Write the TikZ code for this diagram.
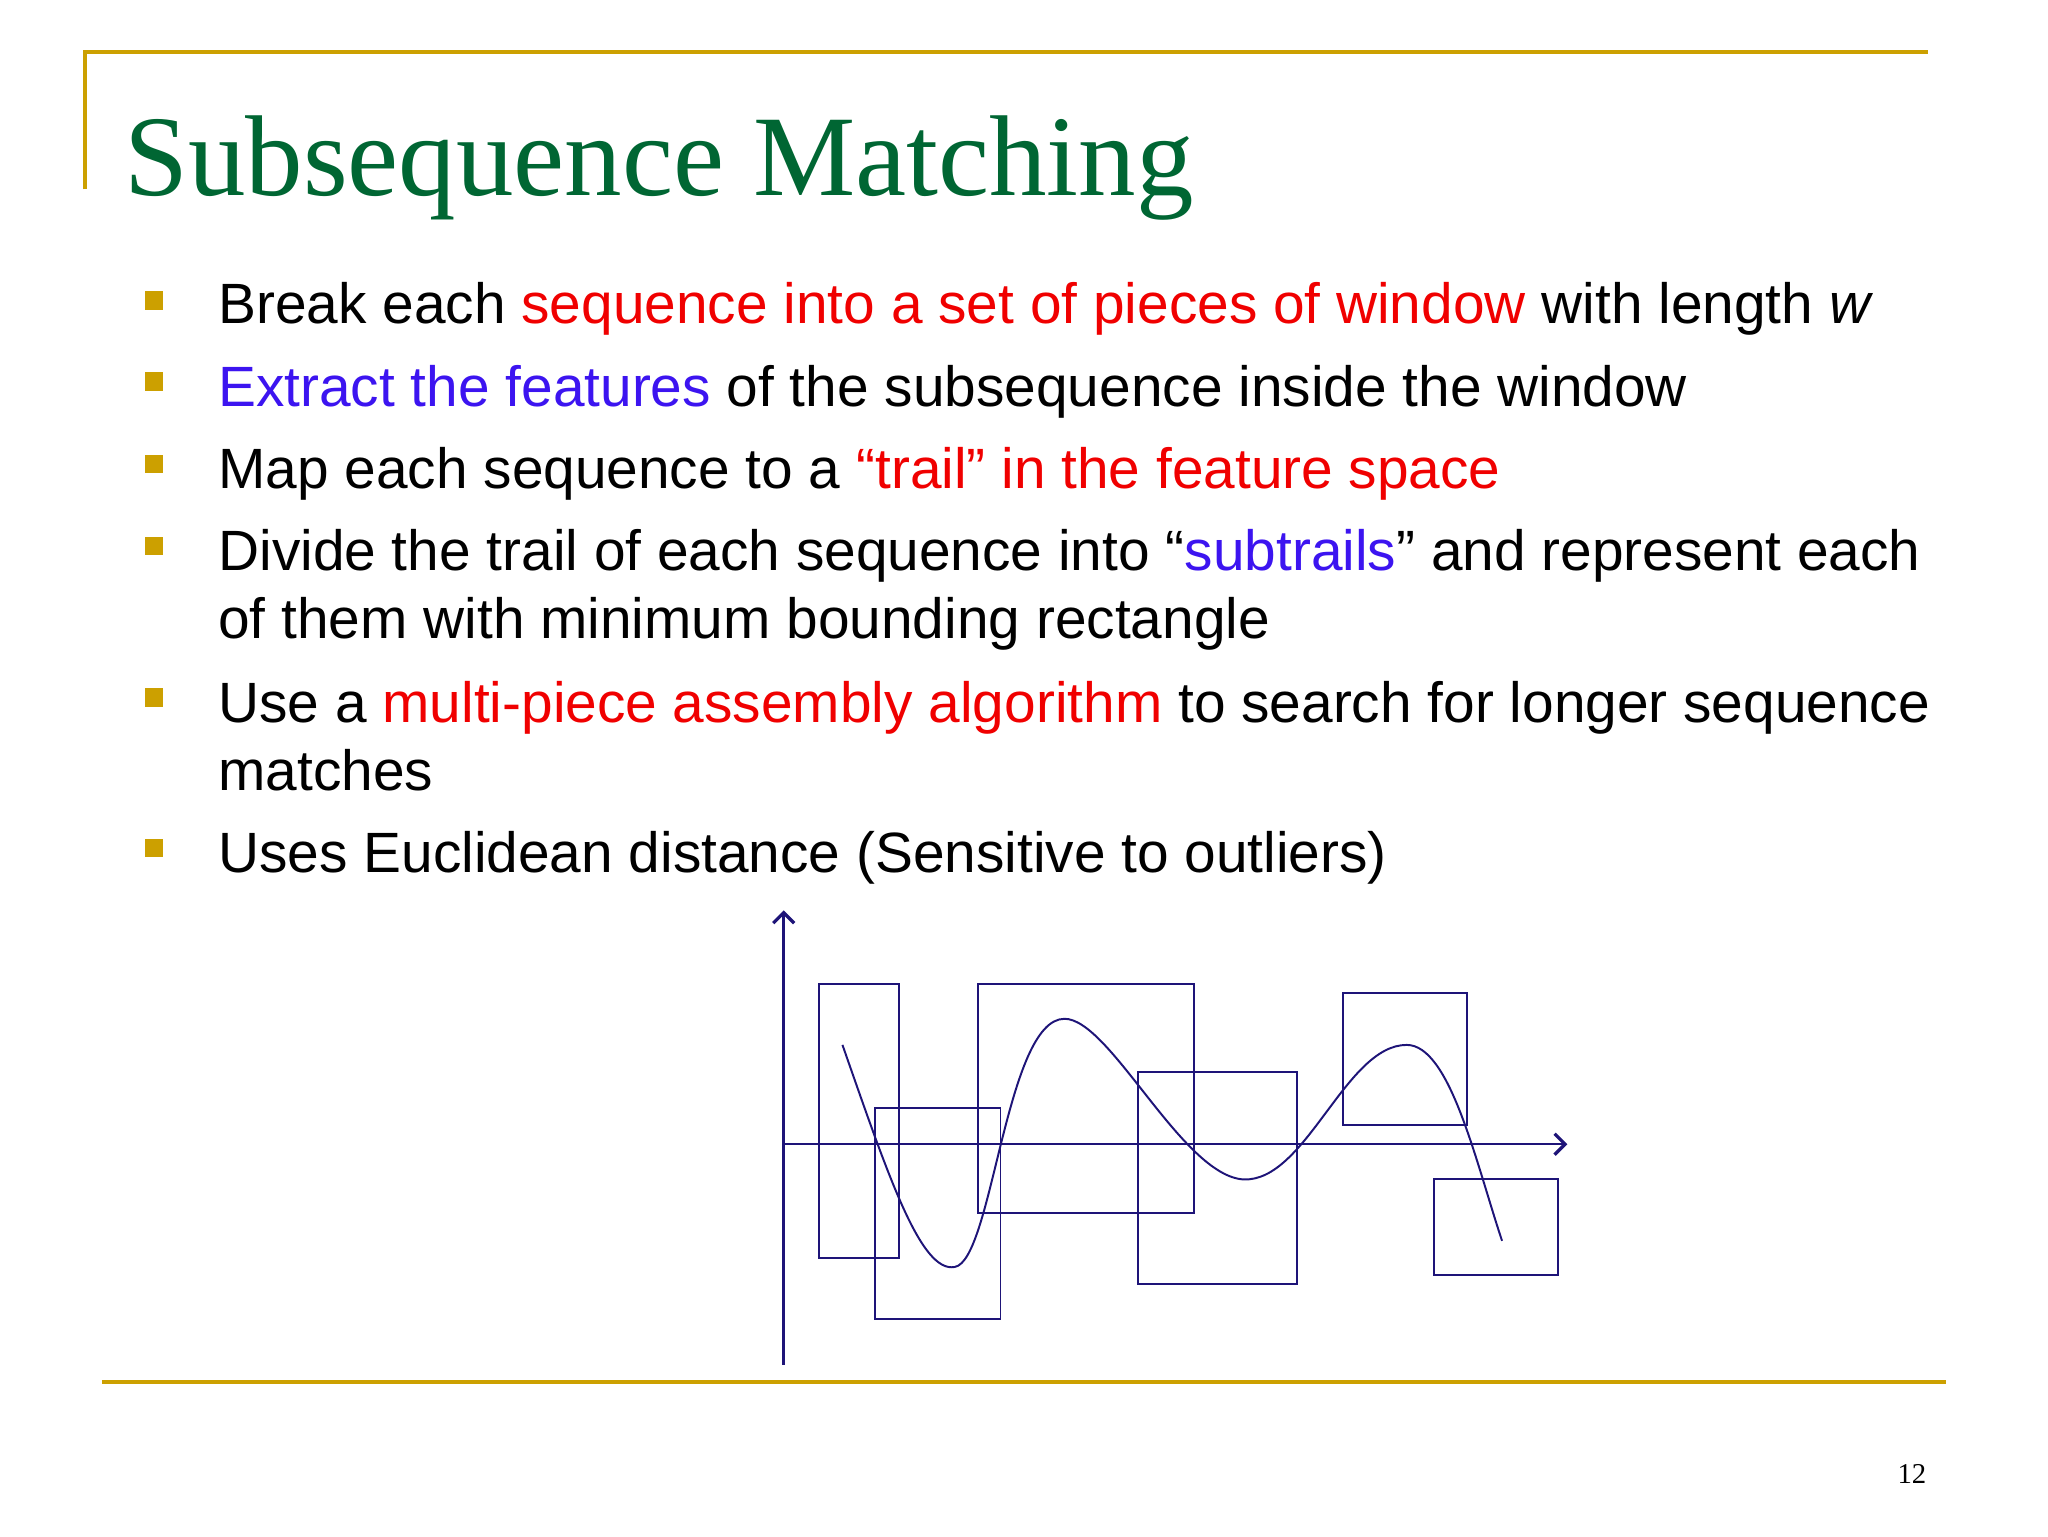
\documentclass[tikz,border=0pt]{standalone}
\usepackage{fontspec}
\setmainfont{Liberation Sans}
\newfontfamily\titlefont{Liberation Serif}
\definecolor{gold}{RGB}{204,160,0}
\definecolor{ttl}{RGB}{0,102,51}
\definecolor{rd}{RGB}{240,0,0}
\definecolor{bl}{RGB}{60,20,240}
\definecolor{nv}{RGB}{30,20,120}
\tikzset{txt/.style={anchor=base west,inner sep=0,font=\fontsize{43.5}{52}\selectfont},
 bul/.style={fill=gold,minimum size=14,inner sep=0},
 fig/.style={draw=nv,line width=1.5},
 ax/.style={draw=nv,line width=2,-{Straight Barb[length=8,width=16,line width=2.5]}}}
\usetikzlibrary{arrows.meta}
\begin{document}
\begin{tikzpicture}[x=1pt,y=-1pt]
\useasboundingbox (0,0) rectangle (1568,1176);
\draw[gold,line width=3] (65,145)--(65,40)--(1476,40);
\draw[gold,line width=3] (78,1058)--(1490,1058);
\node[anchor=base west,inner sep=0,text=ttl,font=\titlefont\fontsize{88}{90}\selectfont] (title) at (95,150) {Subsequence Matching};
\foreach \y/\n in {230/b1,292/b2,355/b3,418/b4,534/b5,649/b6}{\node[bul] (\n) at (118,\y) {};}
\node[txt] (t1) at (167,248) {Break each \textcolor{rd}{sequence into a set of pieces of window} with length \textit{w}};
\node[txt] (t2) at (167,311) {\textcolor{bl}{Extract the features} of the subsequence inside the window};
\node[txt] (t3) at (167,374) {Map each sequence to a \textcolor{rd}{“trail” in the feature space}};
\node[txt] (t4) at (167,437) {Divide the trail of each sequence into “\textcolor{bl}{subtrails}” and represent each};
\node[txt] (t4b) at (167,489) {of them with minimum bounding rectangle};
\node[txt] (t5) at (167,553) {Use a \textcolor{rd}{multi-piece assembly algorithm} to search for longer sequence};
\node[txt] (t5b) at (167,605) {matches};
\node[txt] (t6) at (167,668) {Uses Euclidean distance (Sensitive to outliers)};
\node[anchor=base east,inner sep=0,font=\titlefont\fontsize{22}{24}\selectfont] (pg) at (1475,1136) {12};
\coordinate (o) at (600,1045); \coordinate (yt) at (600,697);
\coordinate (xo) at (600,876); \coordinate (xt) at (1200,876);
\draw[ax] (o)--(yt);
\draw[ax] (xo)--(xt);
\draw[fig] (627,753) rectangle (688,963);
\draw[fig] (670,848) rectangle (766,1010);
\draw[fig] (749,753) rectangle (914,929);
\draw[fig] (871,821) rectangle (993,983);
\draw[fig] (1028,760) rectangle (1123,861);
\draw[fig] (1098,903) rectangle (1193,976);
\draw[fig] (645,800) .. controls (680,900) and (705,975) .. (731,970)
 .. controls (760,965) and (770,780) .. (815,780)
 .. controls (850,780) and (905,900) .. (952,903)
 .. controls (1000,905) and (1030,800) .. (1077,800)
 .. controls (1110,800) and (1130,890) .. (1150,950);
\end{tikzpicture}
\end{document}
